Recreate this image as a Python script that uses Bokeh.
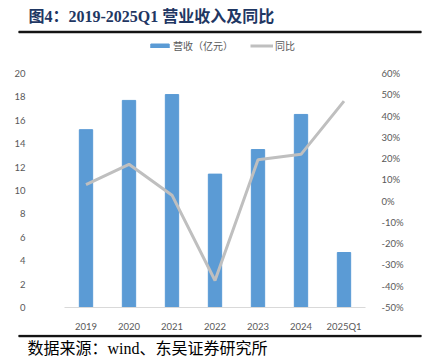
from bokeh.plotting import figure
from bokeh.models import (Range1d, FactorRange, LinearAxis, FixedTicker, Span,
                          Legend, LegendItem, CustomJSTickFormatter, ColumnDataSource)
from bokeh.core.properties import value
from bokeh.embed import file_html
from bokeh.resources import INLINE

years = ["2019", "2020", "2021", "2022", "2023", "2024", "2025Q1"]
revenue = [15.2, 17.7, 18.2, 11.4, 13.5, 16.5, 4.7]
yoy = [7.8, 17.3, 2.8, -37.3, 19.5, 22.0, 47.0]
left_ticks = [0, 2, 4, 6, 8, 10, 12, 14, 16, 18, 20]
right_ticks = [-50, -40, -30, -20, -10, 0, 10, 20, 30, 40, 50, 60]

title_text = "图4：2019-2025Q1 营业收入及同比"
source_text = "数据来源：wind、东吴证券研究所"
legend_labels = ["营收（亿元）", "同比"]

BAR_COLOR = "#5b9bd5"
LINE_COLOR = "#bfbfbf"
TICK_COLOR = "#595959"
RULE_COLOR = "#141414"
TICK_FONT = "Lato"
SERIF = "Liberation Serif, Noto Sans CJK SC"
W = 432
RULE_L, RULE_R = 18, 421   # horizontal extent of the black rules (page pixels)


def blank(h):
    # frame spans the rule width; x = page pixels, y = pixels from bottom
    f = figure(width=W, height=h, x_range=Range1d(RULE_L, RULE_R), y_range=Range1d(0, h),
               x_axis_type=None, y_axis_type=None, output_backend="svg",
               toolbar_location=None, min_border_left=RULE_L, min_border_right=W - RULE_R,
               min_border_top=0, min_border_bottom=0, outline_line_color=None,
               frame_align=False)
    f.xgrid.visible = False
    f.ygrid.visible = False
    return f


# ---- header: title, rule, legend
top = blank(60)
top.text(x=[28], y=[44], text=[title_text], text_font=value(SERIF),
         text_font_style="bold", text_font_size="16px", text_color="#1f3763",
         text_baseline="middle", text_align="left")
top.add_layout(Span(location=28.5, dimension="width", line_color=RULE_COLOR, line_width=2))
top.hbar(y=[28.5], left=[RULE_L], right=[RULE_R], height=2,
         fill_color=RULE_COLOR, line_color=RULE_COLOR, line_width=0.5)
dummy_bar = top.vbar(x=[-100], top=[-100], bottom=[-101], width=1, color=BAR_COLOR)
dummy_line = top.line(x=[-100, -99], y=[-100, -100], line_color=LINE_COLOR, line_width=3)
legend = Legend(items=[LegendItem(label=legend_labels[0], renderers=[dummy_bar]),
                       LegendItem(label=legend_labels[1], renderers=[dummy_line])],
                orientation="horizontal", location=(148 - RULE_L, 7.5),
                background_fill_alpha=0, border_line_color=None,
                label_text_font="Noto Sans CJK SC", label_text_font_size="10px",
                label_text_color=TICK_COLOR, glyph_width=23, glyph_height=5,
                label_height=10, label_standoff=2, spacing=17, padding=0, margin=0)
top.add_layout(legend, "center")

# ---- main chart
src = ColumnDataSource(dict(x=years, rev=revenue, yoy=yoy))
p = figure(width=W, height=274, x_range=FactorRange(*years, range_padding=0),
           y_range=Range1d(0, 20), output_backend="svg", toolbar_location=None,
           min_border_left=64, min_border_right=67, min_border_top=13,
           min_border_bottom=21, outline_line_color=None)
p.extra_y_ranges = {"pct": Range1d(-50, 60)}
p.xgrid.visible = False
p.ygrid.visible = False

p.yaxis.ticker = FixedTicker(ticks=left_ticks)
p.yaxis.axis_line_color = None
p.yaxis.major_tick_line_color = None
p.yaxis.minor_tick_line_color = None
p.yaxis.major_label_text_font = TICK_FONT
p.yaxis.major_label_text_font_size = "9.5px"
p.yaxis.major_label_text_color = TICK_COLOR
p.yaxis.major_label_standoff = 33

ra = LinearAxis(y_range_name="pct", ticker=FixedTicker(ticks=right_ticks),
                formatter=CustomJSTickFormatter(code="return tick.toFixed(0) + '%';"))
ra.axis_line_color = None
ra.major_tick_line_color = None
ra.minor_tick_line_color = None
ra.major_label_text_font = TICK_FONT
ra.major_label_text_font_size = "9.5px"
ra.major_label_text_color = TICK_COLOR
ra.major_label_standoff = 10
p.add_layout(ra, "right")

p.xaxis.axis_line_color = "#d9d9d9"
p.xaxis.axis_line_width = 1
p.xaxis.major_tick_line_color = None
p.xaxis.minor_tick_line_color = None
p.xaxis.major_label_text_font = TICK_FONT
p.xaxis.major_label_text_font_size = "9.5px"
p.xaxis.major_label_text_color = TICK_COLOR
p.xaxis.major_label_standoff = 7

p.vbar(x="x", top="rev", width=0.31, source=src, color=BAR_COLOR)
p.line(x="x", y="yoy", source=src, y_range_name="pct",
       line_color=LINE_COLOR, line_width=3)

# ---- footer: rule + source
foot = blank(28)
foot.add_layout(Span(location=26.5, dimension="width", line_color=RULE_COLOR, line_width=2))
foot.hbar(y=[26.5], left=[RULE_L], right=[RULE_R], height=2,
          fill_color=RULE_COLOR, line_color=RULE_COLOR, line_width=0.5)
foot.text(x=[27], y=[14], text=[source_text], text_font=value(SERIF),
          text_font_size="16px", text_color="black",
          text_baseline="middle", text_align="left")

# stacked as separate roots: 60 + 274 + 28 = 362
open("out.html", "w").write(file_html([top, p, foot], INLINE))
